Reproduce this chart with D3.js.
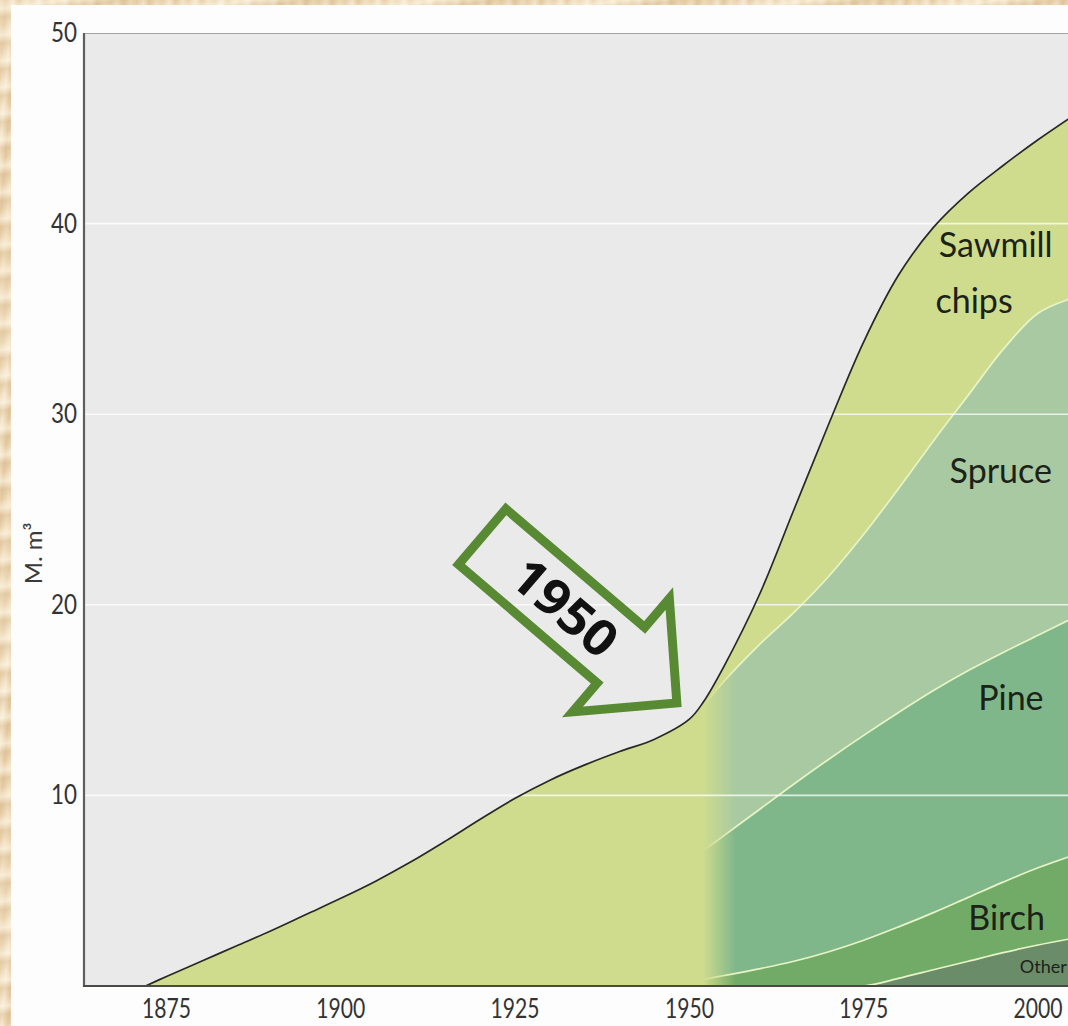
<!DOCTYPE html>
<html>
<head>
<meta charset="utf-8">
<script src="https://cdn.jsdelivr.net/npm/d3@7"></script>
<style>
  html, body { margin: 0; padding: 0; }
  body {
    width: 1068px; height: 1026px; overflow: hidden;
    background:
      repeating-linear-gradient(172deg, rgba(255,255,255,0.0) 0px, rgba(255,250,235,0.55) 9px, rgba(210,180,135,0.35) 17px, rgba(255,255,255,0) 26px),
      repeating-linear-gradient(95deg, #f2e0c2 0px, #ead3ae 6px, #f6e7cf 13px, #e4c9a0 19px, #f2e0c2 26px);
  }
  svg { display: block; }
</style>
</head>
<body>
<svg id="chart" width="1068" height="1026"></svg>
<script>
// ---------------- DATA ----------------
// Total volume before the species breakdown (M. m³)
const earlyYears  = [1872, 1875, 1880, 1885, 1890, 1895, 1900, 1905, 1910, 1915, 1920, 1925, 1930, 1935, 1940, 1945, 1950];
const earlyTotal  = [0, 0.5, 1.3, 2.1, 2.9, 3.75, 4.6, 5.5, 6.5, 7.6, 8.75, 9.85, 10.8, 11.6, 12.3, 12.95, 14.0];

// Species breakdown from 1952 (layer thickness, M. m³)
const speciesYears = [1952, 1955, 1960, 1965, 1970, 1975, 1980, 1985, 1990, 1995, 2000, 2005];
const other   = [0, 0, 0, 0, 0, 0, 0.4, 0.85, 1.3, 1.75, 2.15, 2.5];
const birch   = [0.35, 0.55, 0.9, 1.3, 1.8, 2.4, 2.7, 3.0, 3.35, 3.7, 4.05, 4.35];
const pine    = [6.75, 7.35, 8.35, 9.3, 10.1, 10.75, 11.25, 11.65, 11.9, 12.05, 12.2, 12.45];
const spruce  = [7.6, 8.1, 8.65, 9.0, 9.6, 10.55, 11.75, 13.1, 14.45, 15.9, 16.9, 16.8];
const sawmill = [0.2, 0.8, 2.6, 5.4, 8.0, 10.1, 11.2, 11.2, 10.6, 9.65, 9.1, 9.55];

const seriesKeys   = ["other", "birch", "pine", "spruce", "sawmill"];
const seriesColors = ["#6b8c69", "#72ab68", "#7fb78b", "#a8c9a1", "#cfdc8d"];

const xTicks = [1875, 1900, 1925, 1950, 1975, 2000];
const yTicks = [10, 20, 30, 40, 50];
const yLabel = "M. m³";
const arrowLabel = "1950";

// series labels
const labelTexts   = ["Sawmill", "chips", "Spruce", "Pine", "Birch", "Other"];
const labelYears   = [2002.1, 1985.3, 2002.0, 2000.8, 2001.0, 1997.4];
const labelValues  = [38.25, 35.3, 26.4, 14.5, 2.93, 0.68];
const labelAnchors = ["end", "start", "end", "end", "end", "start"];
const labelSizes   = [34, 34, 34, 34, 34, 18];

// ---------------- LAYOUT ----------------
const W = 1068, H = 1026;
const plot = { left: 84, top: 33, right: 1068, bottom: 986 };

const svg = d3.select("#chart");

const x = d3.scaleLinear().domain([1875, 2000]).range([166.5, 1038]);
const y = d3.scaleLinear().domain([0, 50]).range([plot.bottom, plot.top]);

const defs = svg.append("defs");
defs.append("clipPath").attr("id", "plotClip")
  .append("rect").attr("x", plot.left).attr("y", plot.top)
  .attr("width", plot.right - plot.left).attr("height", plot.bottom - plot.top);

// fade-in gradient for species layers
const grad = defs.append("linearGradient").attr("id", "fadeGrad")
  .attr("gradientUnits", "userSpaceOnUse")
  .attr("x1", x(1952.0)).attr("x2", x(1956.6)).attr("y1", 0).attr("y2", 0);
grad.append("stop").attr("offset", 0).attr("stop-color", "#fff").attr("stop-opacity", 0);
grad.append("stop").attr("offset", 0.45).attr("stop-color", "#fff").attr("stop-opacity", 0.45);
grad.append("stop").attr("offset", 1).attr("stop-color", "#fff").attr("stop-opacity", 1);
defs.append("mask").attr("id", "fadeMask").attr("maskUnits", "userSpaceOnUse")
  .attr("x", 0).attr("y", 0).attr("width", W).attr("height", H)
  .append("rect").attr("x", 0).attr("y", 0).attr("width", W).attr("height", H)
  .attr("fill", "url(#fadeGrad)");

// white panel
svg.append("rect").attr("x", 11).attr("y", 5).attr("width", W - 11).attr("height", H - 5).attr("fill", "#fdfdfd");

// plot background
svg.append("rect").attr("x", plot.left).attr("y", plot.top)
  .attr("width", plot.right - plot.left).attr("height", plot.bottom - plot.top)
  .attr("fill", "#eaeaea");

const g = svg.append("g").attr("clip-path", "url(#plotClip)");

// stacked data
const rows = speciesYears.map((yr, i) => ({
  year: yr, other: other[i], birch: birch[i], pine: pine[i], spruce: spruce[i], sawmill: sawmill[i]
}));
const stacked = d3.stack().keys(seriesKeys)(rows);
const topLayer = stacked[stacked.length - 1];

const totalPts = earlyYears.map((yr, i) => [yr, earlyTotal[i]])
  .concat(topLayer.map(d => [d.data.year, d[1]]));

const curve = d3.curveCatmullRom.alpha(0.5);

// base area (total, sawmill-chip colour)
g.append("path")
  .datum(totalPts)
  .attr("fill", seriesColors[4])
  .attr("d", d3.area().curve(curve).x(d => x(d[0])).y0(y(0)).y1(d => y(d[1])));

// species layers with fade-in
const sp = g.append("g").attr("mask", "url(#fadeMask)");
sp.selectAll("path.layer")
  .data(stacked)
  .join("path")
  .attr("class", "layer")
  .attr("fill", (d, i) => seriesColors[i])
  .attr("d", d3.area().curve(curve).x(d => x(d.data.year)).y0(d => y(d[0])).y1(d => y(d[1])));

// boundary lines between layers
const lineGen = d3.line().curve(curve).x(d => x(d.data.year)).y(d => y(d[1]));
sp.selectAll("path.bound")
  .data(stacked.slice(0, 4))
  .join("path")
  .attr("class", "bound")
  .attr("fill", "none")
  .attr("stroke", "#e6f5c6")
  .attr("stroke-width", 1.7)
  .attr("d", (layer) => lineGen(layer.filter((d, i) => i === 0 || d[1] > 0 || (layer[i + 1] && layer[i + 1][1] > 0))));

// gridlines
g.selectAll("line.grid")
  .data(yTicks.slice(0, 4))
  .join("line")
  .attr("class", "grid")
  .attr("x1", plot.left).attr("x2", plot.right)
  .attr("y1", d => y(d)).attr("y2", d => y(d))
  .attr("stroke", "#ffffff").attr("stroke-opacity", 0.75).attr("stroke-width", 1.6);

// total outline
g.append("path")
  .datum(totalPts)
  .attr("fill", "none")
  .attr("stroke", "#262a22")
  .attr("stroke-width", 1.7)
  .attr("d", d3.line().curve(curve).x(d => x(d[0])).y(d => y(d[1])));

// axes lines
svg.append("line").attr("x1", plot.left).attr("x2", plot.right)
  .attr("y1", plot.top + 0.5).attr("y2", plot.top + 0.5)
  .attr("stroke", "#a5a5a5").attr("stroke-width", 1.2);
svg.append("line").attr("x1", plot.left).attr("x2", plot.left)
  .attr("y1", plot.top).attr("y2", plot.bottom + 1)
  .attr("stroke", "#5e5e5e").attr("stroke-width", 2.2);
svg.append("line").attr("x1", plot.left - 1).attr("x2", plot.right)
  .attr("y1", plot.bottom).attr("y2", plot.bottom)
  .attr("stroke", "#474b44").attr("stroke-width", 2.2);

// tick labels (no tick marks)
svg.selectAll("text.xt")
  .data(xTicks)
  .join("text")
  .attr("class", "xt")
  .attr("x", d => x(d)).attr("y", 1018)
  .attr("text-anchor", "middle")
  .attr("font-family", "Lato, 'Open Sans', sans-serif")
  .attr("font-size", 27)
  .attr("fill", "#333")
  .attr("textLength", 49).attr("lengthAdjust", "spacingAndGlyphs")
  .text(d => d);

svg.selectAll("text.yt")
  .data(yTicks)
  .join("text")
  .attr("class", "yt")
  .attr("x", 77).attr("y", d => y(d) + 9)
  .attr("text-anchor", "end")
  .attr("font-family", "Lato, 'Open Sans', sans-serif")
  .attr("font-size", 27)
  .attr("fill", "#333")
  .attr("textLength", 26).attr("lengthAdjust", "spacingAndGlyphs")
  .text(d => d);

svg.append("text")
  .attr("transform", `translate(42, ${y(22.7)}) rotate(-90)`)
  .attr("text-anchor", "middle")
  .attr("font-family", "Lato, 'Open Sans', sans-serif")
  .attr("font-size", 24)
  .attr("fill", "#3a3a3a")
  .text(yLabel);

// series labels
svg.selectAll("text.lab")
  .data(labelTexts)
  .join("text")
  .attr("class", "lab")
  .attr("x", (d, i) => x(labelYears[i]))
  .attr("y", (d, i) => y(labelValues[i]))
  .attr("text-anchor", (d, i) => labelAnchors[i])
  .attr("font-family", "Lato, 'Open Sans', sans-serif")
  .attr("font-size", (d, i) => labelSizes[i])
  .attr("fill", "#1c2218")
  .text(d => d);

// "1950" arrow annotation, tip anchored at the data point it points to
const arrowTipYear = 1948.2, arrowTipValue = 14.85, arrowAngle = 40.5;
const arrowShape = [[0, 0], [-73.5, -74.5], [-73.5, -36.5], [-256, -36.5], [-256, 36.5], [-73.5, 36.5], [-73.5, 74.5]];
const ag = svg.append("g")
  .attr("transform", `translate(${x(arrowTipYear)}, ${y(arrowTipValue)}) rotate(${arrowAngle})`);
ag.append("path")
  .attr("d", d3.line()(arrowShape) + "Z")
  .attr("fill", "none")
  .attr("stroke", "#588a33")
  .attr("stroke-width", 9)
  .attr("stroke-linejoin", "miter");
ag.append("text")
  .attr("x", -147).attr("y", 0).attr("dy", "0.36em")
  .attr("text-anchor", "middle")
  .attr("font-family", "'Open Sans', Lato, sans-serif")
  .attr("font-weight", "bold")
  .attr("font-size", 50)
  .attr("textLength", 122).attr("lengthAdjust", "spacingAndGlyphs")
  .attr("fill", "#111")
  .text(arrowLabel);
</script>
</body>
</html>
